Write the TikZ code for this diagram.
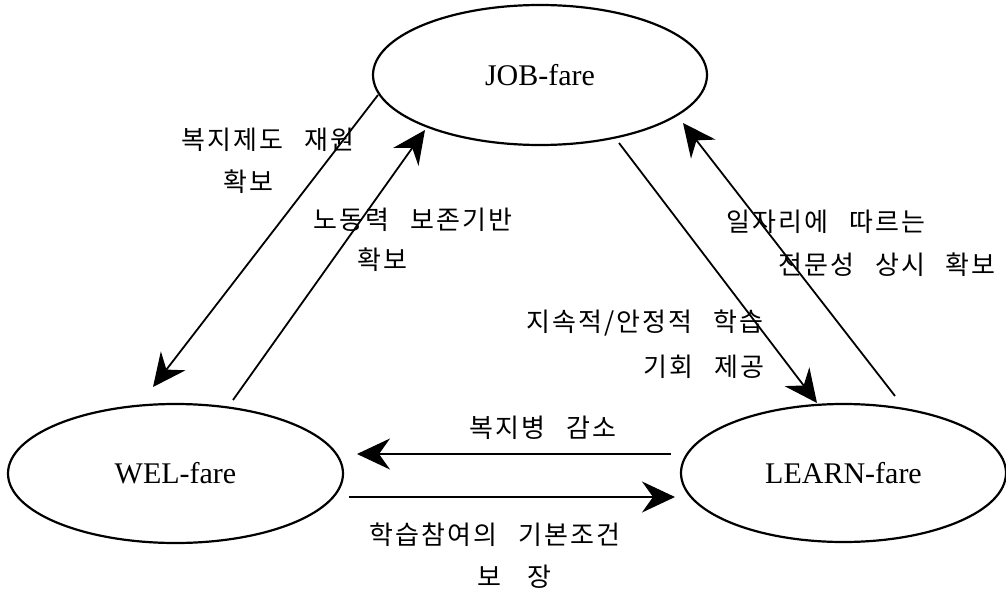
\documentclass[tikz,border=0pt]{standalone}
\usepackage{fontspec}
\setmainfont{Liberation Serif}
\newfontfamily\kr[WordSpace=2.6,LetterSpace=8]{Noto Sans CJK KR}
\usetikzlibrary{shapes.geometric,arrows.meta}

\begin{document}
\begin{tikzpicture}[x=1pt,y=-1pt,
  state/.style={draw, ellipse, line width=2.2pt, inner sep=0pt,
                font=\fontsize{30}{30}\selectfont},
  link/.style={line width=1.8pt,
               -{Stealth[length=33pt,width=31pt,inset=11pt]}},
  lbl/.style={font=\kr\fontsize{26}{30}\selectfont, inner sep=0pt}]
\useasboundingbox (0,0) rectangle (1006,591);

% the three states
\node[state, minimum width=334pt, minimum height=140pt] (job)   at (540,75)    {JOB-fare};
\node[state, minimum width=335pt, minimum height=139pt] (wel)   at (175.5,473.5) {WEL-fare};
\node[state, minimum width=325pt, minimum height=138pt] (learn) at (843.5,473) {LEARN-fare};

% connector end points
\coordinate (jw-s) at (378,95);   \coordinate (jw-e) at (153,387);
\coordinate (wj-s) at (233,400);  \coordinate (wj-e) at (425,130);
\coordinate (jl-s) at (619,143);  \coordinate (jl-e) at (817,403);
\coordinate (lj-s) at (895,396);  \coordinate (lj-e) at (683,123);
\coordinate (lw-s) at (671,454);  \coordinate (lw-e) at (357,454);
\coordinate (wl-s) at (349,497);  \coordinate (wl-e) at (675,497);

% connectors
\draw[link] (jw-s) -- (jw-e);
\draw[link] (wj-s) -- (wj-e);
\draw[link] (jl-s) -- (jl-e);
\draw[link] (lj-s) -- (lj-e);
\draw[link] (lw-s) -- (lw-e);
\draw[link] (wl-s) -- (wl-e);

% labels
\node[lbl] (t1a) at (268,140) {복지제도 재원};
\node[lbl] (t1b) at (248,182) {확보};
\node[lbl] (t2a) at (413,220) {노동력 보존기반};
\node[lbl] (t2b) at (382,260) {확보};
\node[lbl] (t3a) at (826,222) {일자리에 따르는};
\node[lbl] (t3b) at (887,265) {전문성 상시 확보};
\node[lbl] (t4a) at (645,323) {지속적/안정적 학습};
\node[lbl] (t4b) at (704,367) {기회 제공};
\node[lbl] (t5)  at (543,428) {복지병 감소};
\node[lbl] (t6a) at (495,535) {학습참여의 기본조건};
\node[lbl] (t6b) at (514,577) {보\hspace{26pt}장};
\end{tikzpicture}
\end{document}
